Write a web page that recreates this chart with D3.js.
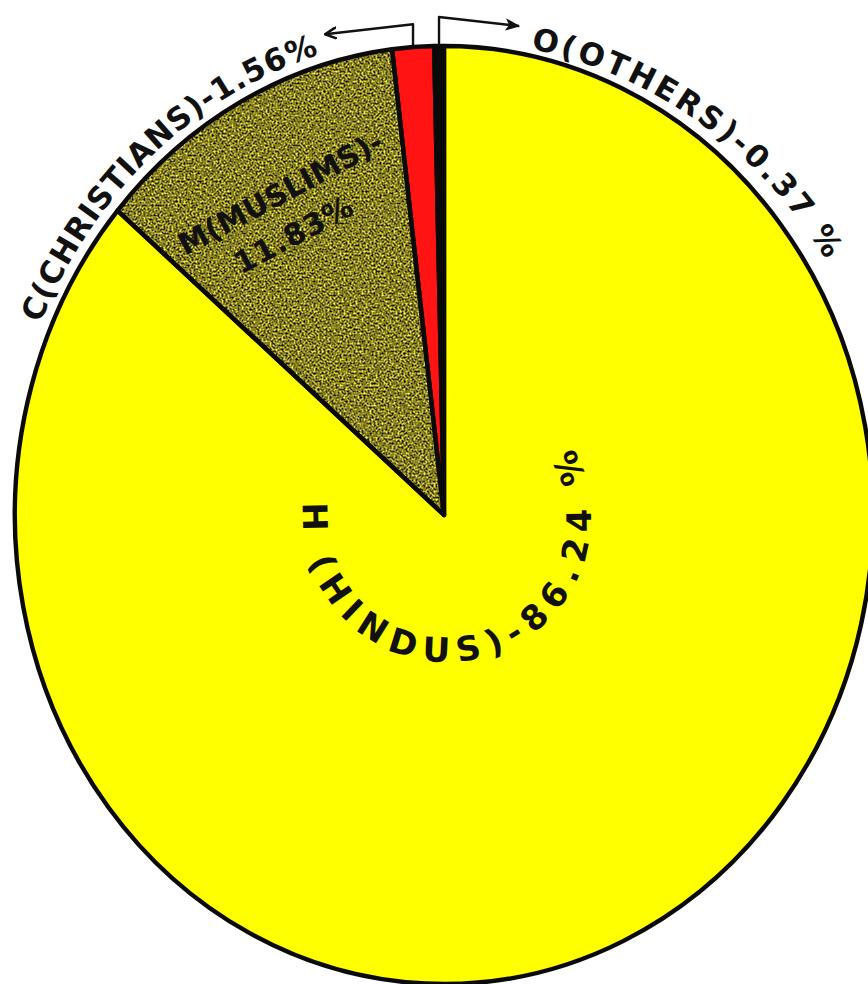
<!DOCTYPE html>
<html>
<head>
<meta charset="utf-8">
<script src="https://cdn.jsdelivr.net/npm/d3@7/dist/d3.min.js"></script>
<style>
  html, body { margin: 0; padding: 0; background: #ffffff; }
  svg { display: block; }
</style>
</head>
<body>
<svg id="chart" width="868" height="984"></svg>
<script>
// Religious composition (per cent of population)
const keys    = ["O", "C", "M", "H"];
const names   = ["OTHERS", "CHRISTIANS", "MUSLIMS", "HINDUS"];
const shares  = [0.37, 1.56, 11.83, 86.24];
const colours = ["#0b0b0b", "#ff1313", "#857f22", "#ffff00"];

const W = 868, H = 984;
const cx = 444, cy = 515;      // centre of the pie
const rx = 429, ry = 469;      // the pie is drawn as a tall ellipse

const data = keys.map((k, i) => ({ key: k, name: names[i], value: shares[i], colour: colours[i] }));

const svg = d3.select("#chart");
const defs = svg.append("defs");

// speckled grain for the muslims wedge
const grain = defs.append("filter").attr("id", "grain")
  .attr("color-interpolation-filters", "sRGB")
  .attr("x", "-5%").attr("y", "-5%").attr("width", "110%").attr("height", "110%");
grain.append("feTurbulence").attr("type", "fractalNoise")
  .attr("baseFrequency", 0.5).attr("numOctaves", 2).attr("seed", 7).attr("result", "noise");
grain.append("feColorMatrix").attr("in", "noise").attr("type", "matrix")
  .attr("values", "1.8 0 0 0 -0.4  1.8 0 0 0 -0.4  1.8 0 0 0 -0.4  0 0 0 0 1")
  .attr("result", "noiseAdj");
grain.append("feComposite").attr("in", "SourceGraphic").attr("in2", "noiseAdj")
  .attr("operator", "arithmetic").attr("k1", 2).attr("k2", 0).attr("k3", 0).attr("k4", 0);

// arrowheads
defs.append("marker").attr("id", "openHead")
  .attr("viewBox", "0 0 12 12").attr("refX", 11).attr("refY", 6)
  .attr("markerWidth", 13).attr("markerHeight", 13).attr("markerUnits", "userSpaceOnUse")
  .attr("orient", "auto")
  .append("path").attr("d", "M1,1 L11,6 L1,11")
  .attr("fill", "none").attr("stroke", "#111").attr("stroke-width", 2.4)
  .attr("stroke-linecap", "round").attr("stroke-linejoin", "round");
defs.append("marker").attr("id", "solidHead")
  .attr("viewBox", "0 0 12 12").attr("refX", 11).attr("refY", 6)
  .attr("markerWidth", 15).attr("markerHeight", 15).attr("markerUnits", "userSpaceOnUse")
  .attr("orient", "auto")
  .append("path").attr("d", "M0,1 L12,6 L0,11 L3,6 Z").attr("fill", "#111");

// slices run anticlockwise from twelve o'clock
const pie = d3.pie().value(d => d.value).sort(null)
  .startAngle(0).endAngle(-2 * Math.PI);
const arcs = pie(data);
const unitArc = d3.arc().innerRadius(0).outerRadius(1);

const g = svg.append("g").attr("transform", `translate(${cx},${cy})`);

// fills
arcs.forEach(a => {
  const holder = a.data.key === "M" ? g.append("g").attr("filter", "url(#grain)") : g;
  holder.append("path")
    .attr("d", unitArc(a))
    .attr("transform", `scale(${rx},${ry})`)
    .attr("fill", a.data.colour);
});

// outlines
g.selectAll("path.edge").data(arcs).join("path")
  .attr("class", "edge")
  .attr("d", unitArc)
  .attr("transform", `scale(${rx},${ry})`)
  .attr("fill", "none")
  .attr("stroke", "#0a0a0a")
  .attr("stroke-width", 4.4)
  .attr("stroke-linejoin", "round")
  .attr("vector-effect", "non-scaling-stroke");

const FONT = "'DejaVu Sans', 'Noto Sans', sans-serif";
const fmt = v => d3.format(".2f")(v);

// point on an ellipse around the centre, t measured clockwise from the top
const ell = (a, b, t) => [cx + a * Math.sin(t), cy - b * Math.cos(t)];
const rad = d => d * Math.PI / 180;

function ellipsePath(id, a, b, t0, t1) {
  const pts = d3.range(0, 101).map(i => ell(a, b, rad(t0 + (t1 - t0) * i / 100)));
  defs.append("path").attr("id", id).attr("d", d3.line().curve(d3.curveCatmullRom)(pts));
  return id;
}

// text spread out along a path to span its whole length
function pathLabel(id, text, size) {
  const t = svg.append("text")
    .attr("font-family", FONT).attr("font-weight", "bold")
    .attr("font-size", size).attr("fill", "#111");
  t.append("textPath").attr("href", "#" + id).text(text);
  const total = document.getElementById(id).getTotalLength();
  const natural = t.node().getComputedTextLength();
  const spacing = (total - natural) / Math.max(1, text.length - 1);
  t.attr("letter-spacing", spacing);
  return t;
}

const byKey = k => arcs.find(a => a.data.key === k);
const mid = a => (a.startAngle + a.endAngle) / 2;

// outer labels for the thin slices
const cArc = byKey("C"), oArc = byKey("O");
ellipsePath("cPath", rx + 11, ry + 11, -66.5, -16.5);
pathLabel("cPath", `${cArc.data.key}(${cArc.data.name})-${fmt(cArc.data.value)}%`, 31);

ellipsePath("oPath", rx + 24, ry + 6, 11, 57.5);
pathLabel("oPath", `${oArc.data.key}(${oArc.data.name})-${fmt(oArc.data.value)} %`, 31);

// leader arrows from the thin slices to their labels
function leader(a, rise, run, drop, marker) {
  const [x0, y0] = ell(rx, ry, mid(a));
  const yTop = y0 - 2 - rise;
  svg.append("path")
    .attr("d", d3.line()([[x0, y0 - 2], [x0, yTop], [x0 + run, yTop + drop]]))
    .attr("fill", "none").attr("stroke", "#111").attr("stroke-width", 2.4)
    .attr("stroke-linejoin", "round")
    .attr("marker-end", `url(#${marker})`);
}
leader(cArc, 21, -88, 10, "openHead");
leader(oArc, 27, 80, 9, "solidHead");

// muslims label inside its wedge, turned square to the radius
const mArc = byKey("M");
const mm = mid(mArc);
const [mx, my] = [cx + rx * 0.74 * Math.sin(mm), cy - ry * 0.74 * Math.cos(mm)];
const mText = svg.append("g")
  .attr("transform", `translate(${mx},${my}) rotate(${mm * 180 / Math.PI})`)
  .attr("font-family", FONT).attr("font-weight", "bold")
  .attr("font-size", 30).attr("fill", "#111").attr("text-anchor", "middle");
mText.append("text").attr("x", -4).attr("y", -21).attr("dy", "0.36em")
  .text(`${mArc.data.key}(${mArc.data.name})-`);
mText.append("text").attr("x", -12).attr("y", 22).attr("dy", "0.36em")
  .attr("letter-spacing", 1)
  .text(`${fmt(mArc.data.value)}%`);

// hindus label curled round the centre
const hArc = byKey("H");
const hp = d3.path();
hp.arc(cx + 3, cy + 3, 144, rad(186), rad(-29), true);
defs.append("path").attr("id", "hPath").attr("d", hp.toString());
pathLabel("hPath", `${hArc.data.key} (${hArc.data.name})-${fmt(hArc.data.value)} %`, 34);
</script>
</body>
</html>
